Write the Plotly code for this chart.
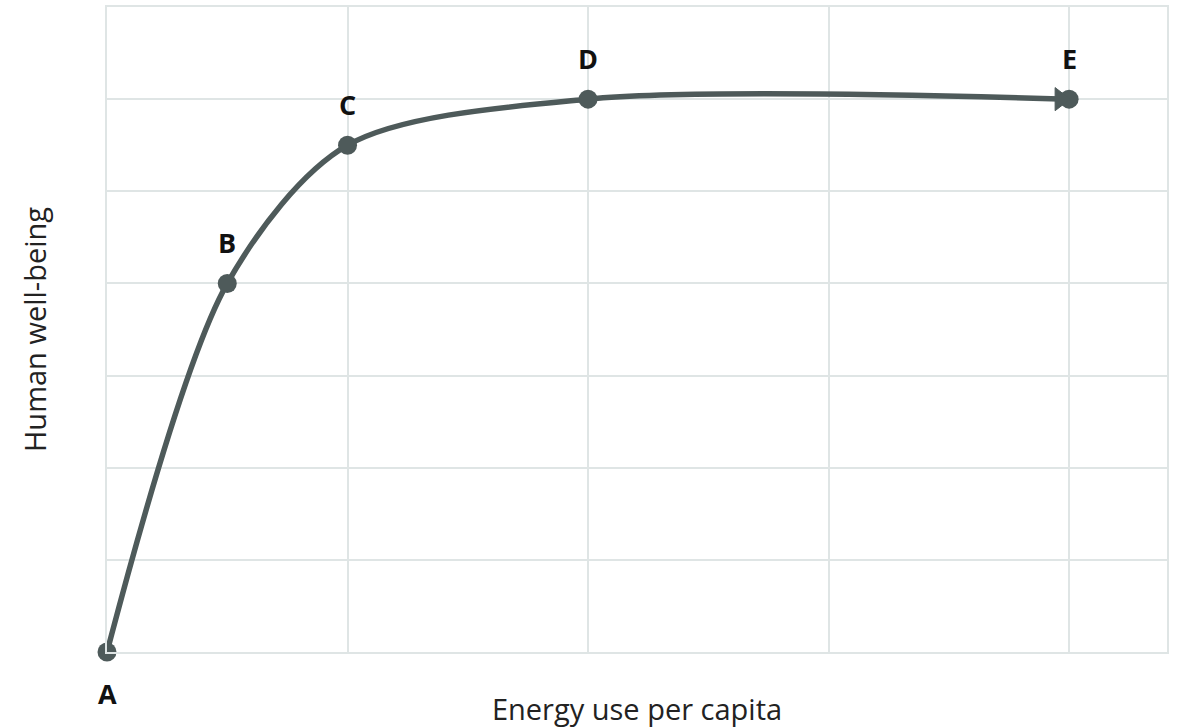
import plotly.graph_objects as go

# Data
labels = ["A", "B", "C", "D", "E"]
energy = [0, 0.5, 1, 2, 4]
wellbeing = [0, 4, 5.5, 6, 6]
label_shift = [-41, 41, 41, 41, 41]

line_color = "#4e5a5a"
grid_color = "#dfe5e5"

fig = go.Figure()
fig.add_trace(go.Scatter(
    x=energy, y=wellbeing, mode="lines+markers", cliponaxis=False,
    line=dict(color=line_color, width=5.5, shape="spline", smoothing=0.85),
    marker=dict(color=line_color, size=19),
    showlegend=False, hoverinfo="skip",
))
# arrowhead just before E
fig.add_trace(go.Scatter(
    x=energy[-2:], y=wellbeing[-2:], mode="markers", cliponaxis=False,
    marker=dict(color=line_color, size=[0, 20], symbol="triangle-up",
                angleref="previous", standoff=9, opacity=1,
                line=dict(width=1, color=line_color)),
    showlegend=False, hoverinfo="skip",
))

for lab, x, y, s in zip(labels, energy, wellbeing, label_shift):
    fig.add_annotation(x=x, y=y, text="<b>%s</b>" % lab, showarrow=False,
                       yshift=s, font=dict(family="Open Sans", size=27, color="#111111"))

fig.update_layout(
    width=1178, height=728,
    margin=dict(l=107, r=11, t=7, b=76),
    paper_bgcolor="white", plot_bgcolor="white",
    font=dict(family="Open Sans", color="#222222"),
    xaxis=dict(range=[0, 4.407], dtick=1, tick0=0, showticklabels=False, automargin=False,
               showgrid=True, gridcolor=grid_color, gridwidth=2,
               zeroline=False, showline=True, linecolor=grid_color, linewidth=2, mirror=True,
               ticks="",
               title=dict(text="Energy use per capita", font=dict(size=29), standoff=49)),
    yaxis=dict(range=[0, 7], dtick=1, tick0=0, showticklabels=False, automargin=False,
               showgrid=True, gridcolor=grid_color, gridwidth=2,
               zeroline=False, showline=True, linecolor=grid_color, linewidth=2, mirror=True,
               ticks="",
               title=dict(text="Human well-being", font=dict(size=29), standoff=50)),
)

fig.write_html("out.html", config={"displayModeBar": False},
               post_script="document.body.style.margin='0';document.body.style.overflow='hidden';")
